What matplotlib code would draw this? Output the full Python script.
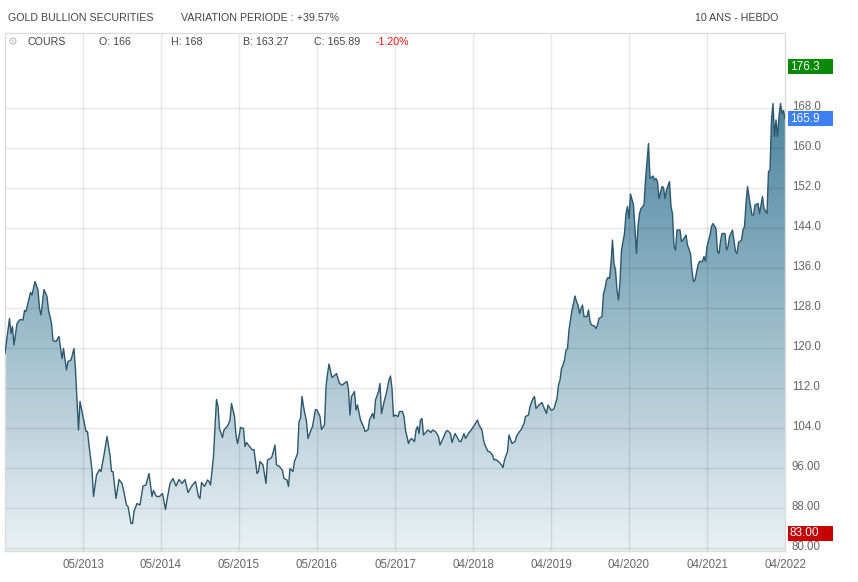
import numpy as np
import matplotlib.pyplot as plt
import matplotlib.transforms as mtransforms
from matplotlib.colors import LinearSegmentedColormap
from matplotlib.patches import Rectangle

# weekly closes, week index from start of the 10 year window
weeks = [0, 1, 3, 4, 5, 6, 8, 10, 12, 13, 14, 15, 17, 18, 20, 22, 23, 24, 26, 28,
         29, 31, 32, 34, 36, 38, 39, 41, 42, 44, 46, 47, 49, 50, 52, 54, 55, 56, 58, 59,
         61, 63, 64, 66, 68, 70, 71, 72, 74, 76, 78, 79, 81, 82, 84, 85, 86, 88, 90, 92,
         94, 96, 98, 99, 101, 103, 105, 107, 108, 110, 112, 114, 116, 118, 120, 122,
         123, 125, 127, 129, 130, 131, 133, 135, 136, 137, 139, 140, 141, 142, 143, 145,
         146, 148, 149, 150, 151, 153, 154, 155, 156, 157, 159, 160, 161, 163, 165, 166,
         168, 169, 170, 172, 174, 175, 177, 178, 180, 181, 183, 185, 186, 188, 189, 190,
         192, 193, 195, 196, 197, 198, 199, 201, 202, 204, 205, 207, 208, 210, 211, 213,
         214, 215, 216, 218, 220, 221, 223, 225, 226, 228, 229, 230, 231, 233, 234, 235,
         237, 239, 240, 242, 243, 245, 246, 247, 249, 250, 251, 253, 254, 256, 257, 258,
         259, 260, 262, 263, 265, 266, 267, 269, 270, 271, 273, 274, 275, 276, 277, 278,
         279, 281, 282, 284, 285, 287, 289, 290, 292, 294, 295, 297, 298, 300, 301, 303,
         304, 306, 307, 309, 310, 311, 313, 315, 316, 318, 319, 320, 322, 323, 325, 326,
         327, 329, 331, 332, 333, 335, 336, 338, 340, 341, 343, 344, 346, 347, 349, 350,
         352, 353, 354, 356, 358, 359, 361, 362, 364, 365, 366, 368, 369, 370, 371, 372,
         373, 374, 375, 376, 378, 379, 380, 381, 382, 383, 384, 385, 386, 388, 389, 390,
         391, 393, 394, 395, 396, 398, 399, 400, 401, 402, 403, 404, 405, 406, 407, 408,
         409, 410, 411, 413, 414, 415, 416, 417, 419, 420, 421, 422, 423, 424, 426, 427,
         428, 429, 430, 432, 433, 434, 435, 436, 438, 439, 440, 441, 443, 444, 445, 446,
         447, 448, 450, 451, 452, 454, 455, 457, 458, 459, 460, 462, 463, 465, 466, 467,
         468, 470, 471, 472, 474, 475, 476, 477, 478, 480, 481, 482, 483, 484, 485, 487,
         488, 489, 491, 492, 493, 494, 495, 496, 498, 499, 500, 502, 503, 504, 505, 506,
         508, 509, 510, 511, 512, 513, 514, 515, 516, 517, 518, 519, 520]
prices = [118.9, 121.3, 125.9, 122.9, 124.3, 120.6, 124.9, 125.7, 125.6, 127.5, 127.3, 128.6,
          131.1, 130.6, 133.3, 131.6, 127.9, 126.6, 131.7, 130.3, 127.6, 124.9, 121.5, 121.3,
          122.3, 117.9, 119.9, 115.6, 117.3, 117.6, 119.9, 115.6, 103.6, 109.3, 106.3, 103.3,
          103.3, 100.6, 95.6, 90.3, 94.6, 95.7, 95.3, 98.6, 102.3, 98.6, 95.3, 95.3, 89.9,
          93.7, 92.9, 91.6, 88.6, 88.3, 84.9, 84.9, 87.3, 88.9, 88.6, 92.4, 92.6, 94.9, 90.3,
          91.5, 90.3, 90.3, 90.9, 87.7, 89.6, 92.9, 93.9, 92.4, 93.7, 92.9, 93.7, 91.1,
          91.6, 92.6, 93.3, 90.3, 89.9, 93.1, 92.3, 93.6, 93.3, 92.6, 98.3, 104.3, 109.7,
          108.3, 103.9, 102.1, 103.6, 104.3, 104.8, 105.6, 108.9, 106.3, 102.6, 100.9, 102.3,
          104.1, 103.9, 100.3, 101.1, 100.3, 99.6, 99.7, 94.9, 95.3, 97.3, 96.6, 92.9, 97.6,
          97.9, 98.3, 100.6, 96.6, 96.3, 95.5, 93.9, 93.6, 92.3, 95.9, 95.3, 97.3, 98.9,
          105.3, 105.9, 110.3, 108.3, 105.3, 101.9, 103.6, 104.3, 107.7, 107.6, 106.3, 103.7,
          104.6, 112.3, 114.8, 116.8, 114.1, 114.6, 114.9, 112.9, 112.6, 112.9, 113.3, 111.6,
          106.6, 110.3, 111.3, 107.6, 108.6, 105.6, 104.3, 103.3, 103.6, 105.6, 106.9, 105.9,
          109.6, 111.3, 112.9, 106.9, 109.6, 110.6, 113.6, 114.4, 111.9, 106.3, 106.6, 106.3,
          107.3, 107.3, 106.3, 103.6, 100.9, 101.6, 101.9, 101.3, 103.6, 104.3, 102.9, 105.6,
          105.9, 102.6, 103.3, 103.6, 103.1, 103.6, 103.3, 102.3, 100.6, 101.9, 103.3, 103.5,
          102.9, 101.1, 102.9, 102.4, 101.3, 101.3, 102.9, 101.9, 102.9, 103.3, 103.7, 104.6,
          105.6, 104.6, 103.6, 101.6, 100.6, 99.3, 99.3, 98.6, 97.6, 97.7, 97.3, 96.6, 96.1,
          97.6, 99.3, 102.6, 100.9, 101.3, 102.3, 103.3, 103.6, 104.9, 106.3, 106.6, 108.3,
          109.9, 110.3, 107.9, 108.6, 109.1, 108.3, 106.9, 108.6, 107.6, 107.6, 107.9, 109.9,
          112.6, 113.6, 115.9, 116.6, 117.6, 119.6, 119.9, 123.6, 127.6, 128.9, 130.4, 129.3,
          128.6, 126.9, 127.9, 128.6, 126.3, 126.3, 127.6, 125.3, 124.6, 124.4, 123.9, 124.6,
          125.9, 126.3, 130.9, 131.9, 133.6, 134.1, 133.9, 136.9, 141.6, 136.9, 135.6, 131.6,
          129.6, 133.3, 139.6, 142.9, 146.9, 148.3, 145.9, 150.8, 148.6, 143.6, 138.9, 144.3,
          146.9, 147.9, 148.6, 153.6, 157.3, 160.9, 153.9, 154.4, 153.6, 153.9, 153.3, 149.9,
          152.3, 152.1, 149.9, 151.6, 153.3, 148.3, 146.9, 140.3, 139.6, 143.6, 143.6, 141.3,
          141.6, 142.6, 140.6, 138.9, 135.3, 133.3, 133.6, 136.6, 137.3, 137.3, 138.3, 137.3,
          140.3, 142.6, 144.3, 144.9, 143.9, 139.3, 138.9, 141.3, 142.9, 142.9, 139.6, 140.3,
          142.3, 142.9, 143.6, 139.3, 138.9, 141.1, 141.6, 143.6, 144.3, 148.9, 152.3, 150.3,
          146.6, 146.6, 148.6, 148.9, 146.9, 148.6, 150.3, 147.9, 146.9, 155.3, 155.6, 165.6,
          168.9, 162.3, 165.6, 162.3, 166.3, 168.9, 166.9, 167.5, 165.9]

x_tick_weeks = [52, 104, 156, 208, 260, 312, 364, 416, 468, 520]
x_tick_labels = ['05/2013', '05/2014', '05/2015', '05/2016', '05/2017',
                 '04/2018', '04/2019', '04/2020', '04/2021', '04/2022']
y_ticks = [80, 88, 96, 104, 112, 120, 128, 136, 144, 152, 160, 168]
y_tick_labels = ['80.00', '88.00', '96.00', '104.0', '112.0', '120.0',
                 '128.0', '136.0', '144.0', '152.0', '160.0', '168.0']

period_high = 176.3
last_close = 165.9
period_low = 83.00

FONT = 'Liberation Sans'
W, H = 858, 582


def main():
    plt.rcParams['font.family'] = [FONT, 'DejaVu Sans']
    fig = plt.figure(figsize=(W / 100, H / 100), dpi=100)
    ax = fig.add_axes([5 / W, 1 - 551 / H, 780 / W, 518 / H])

    y_lo, y_hi = 79.4, 183.0
    ax.set_xlim(0, 520)
    ax.set_ylim(y_lo, y_hi)

    # gradient fill under the curve
    cmap = LinearSegmentedColormap.from_list('fill', ['#e9f0f4', '#4a849e'])
    grad = np.linspace(y_lo, y_hi, 300)[:, None]
    im = ax.imshow(grad, extent=[0, 520, y_lo, y_hi], origin='lower', aspect='auto',
                   cmap=cmap, vmin=80, vmax=170, zorder=1)
    poly = ax.fill_between(weeks, prices, y_lo, facecolor='none', edgecolor='none')
    im.set_clip_path(poly.get_paths()[0], transform=ax.transData)
    ax.plot(weeks, prices, color='#2c586c', lw=1.0, zorder=3)

    # grid
    for yv in y_ticks:
        ax.axhline(yv, color='black', alpha=0.09, lw=1.0, zorder=2)
    for xv in x_tick_weeks[:-1]:
        ax.axvline(xv, color='black', alpha=0.09, lw=1.0, zorder=2)

    for s in ax.spines.values():
        s.set_color('#dcdcdc')
        s.set_linewidth(1.0)

    ax.set_xticks(x_tick_weeks)
    ax.set_xticklabels(x_tick_labels)
    ax.yaxis.tick_right()
    ax.set_yticks(y_ticks)
    ax.set_yticklabels(y_tick_labels)
    ax.tick_params(length=0, labelsize=8.3, labelcolor='#666666')
    ax.tick_params(axis='x', pad=6)
    ax.tick_params(axis='y', pad=5)
    up = mtransforms.ScaledTranslation(0, 3 / 100, fig.dpi_scale_trans)
    for lbl in ax.get_yticklabels():
        lbl.set_transform(lbl.get_transform() + up)

    # value badges on the right axis
    trans = mtransforms.blended_transform_factory(ax.transAxes, ax.transData)
    bw = 45 / 780
    for val, txt, col in [(period_high, '176.3', '#078a07'),
                          (last_close, '165.9', '#3d7ff5'),
                          (period_low, '83.00', '#c80000')]:
        ax.add_patch(Rectangle((1 + 3 / 780, val - 1.5), bw, 3.0, transform=trans,
                               facecolor=col, edgecolor='none', clip_on=False, zorder=5))
        ax.text(1 + 5 / 780, val, txt, transform=trans, color='white', fontsize=8.5,
                va='center', ha='left', zorder=6, clip_on=False)

    # header texts
    def ftext(x, y, s, **kw):
        kw.setdefault('color', '#444444')
        kw.setdefault('fontsize', 7.7)
        fig.text(x / W, 1 - y / H, s, va='center', **kw)

    ftext(8, 18, 'GOLD BULLION SECURITIES')
    ftext(181, 18, 'VARIATION PERIODE : +39.57%')
    ftext(778, 18, '10 ANS - HEBDO', ha='right')
    ftext(8, 42, '\u2699', color='#bbbbbb', family='DejaVu Sans', fontsize=8)
    ftext(28, 42, 'COURS')
    ftext(99, 42, 'O: 166')
    ftext(171, 42, 'H: 168')
    ftext(243, 42, 'B: 163.27')
    ftext(314, 42, 'C: 165.89')
    ftext(376, 42, '-1.20%', color='#ee1111')

    fig.savefig('out.png', dpi=100, facecolor='white')


if __name__ == '__main__':
    main()
